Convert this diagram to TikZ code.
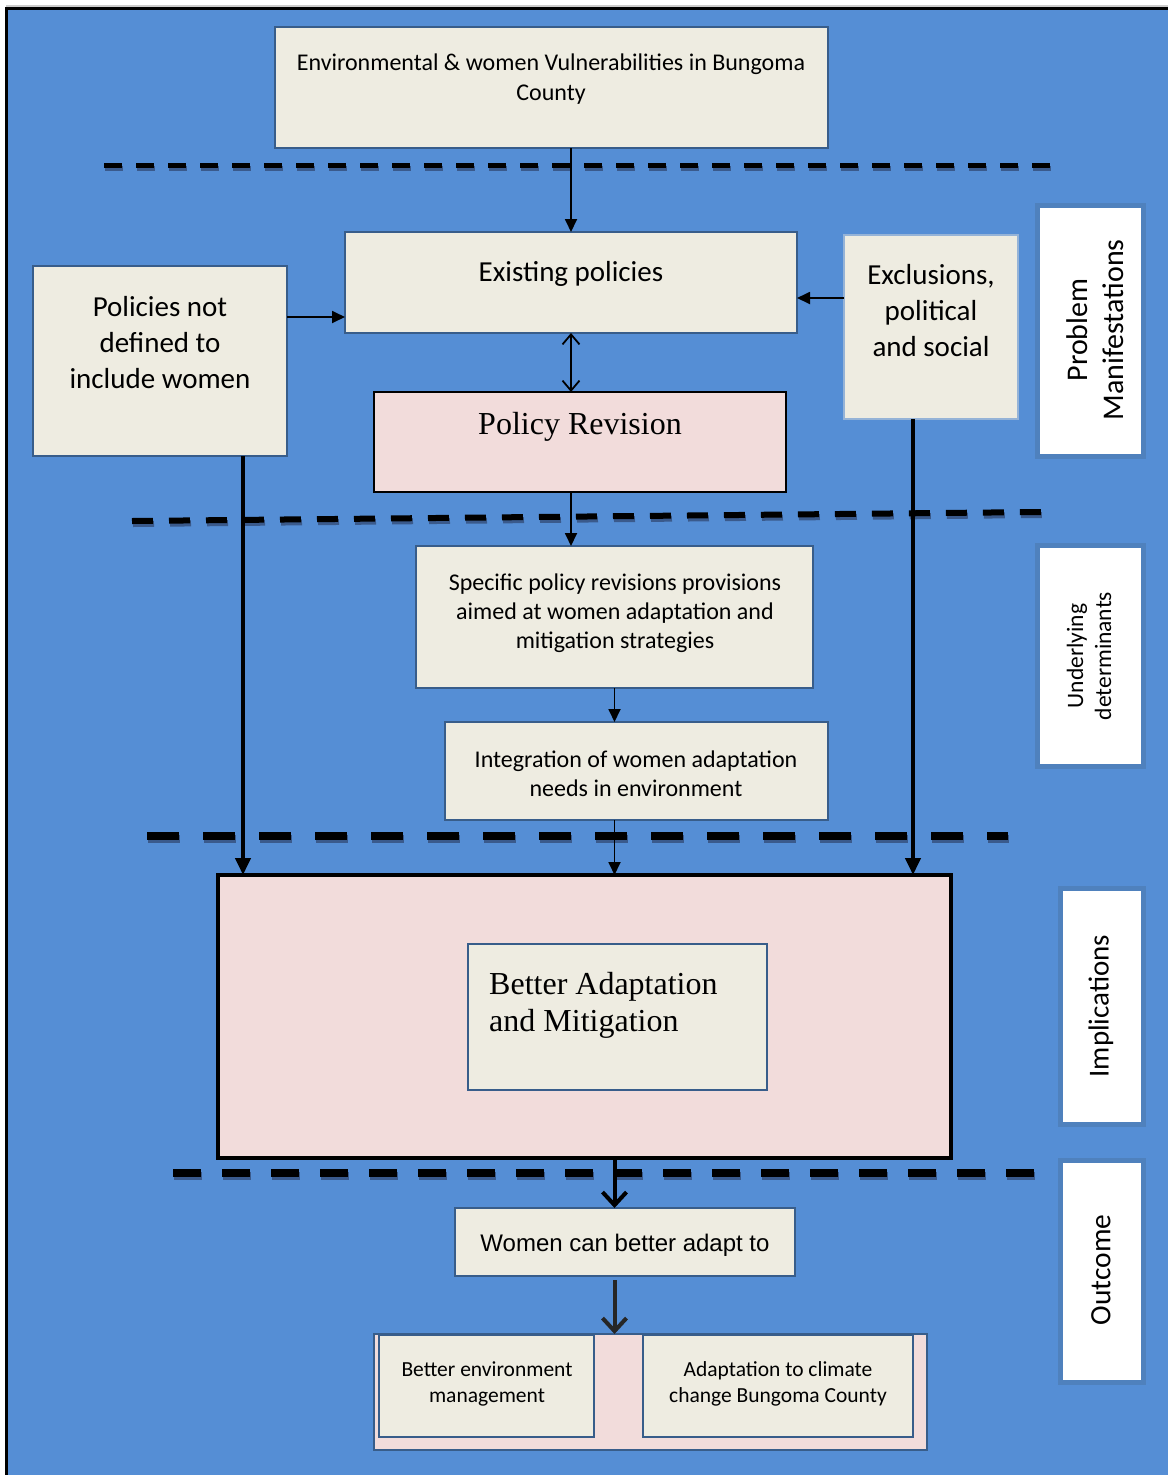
\documentclass[tikz,border=0pt]{standalone}
\usepackage{fontspec}
\usepackage{tikz}
\usepackage{xcolor}
\usetikzlibrary{arrows.meta}
\setmainfont{Carlito}
\newfontfamily\timesfont{Liberation Serif}
\newfontfamily\arialfont{Liberation Sans}

\definecolor{bgblue}{HTML}{558ED5}
\definecolor{boxfill}{HTML}{EEECE1}
\definecolor{boxline}{HTML}{385D8A}
\definecolor{pinkfill}{HTML}{F2DCDB}
\definecolor{sideline}{HTML}{4F81BD}
\definecolor{lightline}{HTML}{95B3D7}
\definecolor{dashshadow}{HTML}{3A5A8C}

\tikzset{
  box/.style={draw=boxline, fill=boxfill, line width=1.5pt, inner sep=0pt, outer sep=0pt, anchor=north west},
  sidebox/.style={draw=sideline, fill=white, line width=5pt, inner sep=0pt, outer sep=0pt, anchor=north west},
  txt/.style={inner sep=0pt, align=center},
  big/.style={font=\fontsize{29}{36}\selectfont},
  mid/.style={font=\fontsize{24}{29}\selectfont},
  small/.style={font=\fontsize{21.5}{26}\selectfont},
  arr/.style={line width=1.8pt, -{Triangle[length=13pt,width=12pt]}},
  bigarr/.style={line width=4pt, -{Triangle[length=17pt,width=15pt]}},
  vee/.style={line width=4pt, -{Straight Barb[length=13pt,width=24pt]}}
}

\begin{document}
\begin{tikzpicture}[x=1pt,y=-1pt]
    \useasboundingbox (0,0) rectangle (1168,1475);
    \fill[white] (0,0) rectangle (1168,1475);
    \fill[bgblue] (6,8) rectangle (1168,1475);
    \draw[gray!40, line width=1.5pt] (6,6) -- (1168,6);
    \draw[black, line width=3pt] (6,1475) -- (6,8) -- (1168,8);

    % Dashed separators
    \foreach \xa/\ya/\xb/\yb/\dl/\gl/\lw in {104/165/1055/165/18/14/5, 132/521/1041/512/21/16/6,
        147/836/1008/836/32/24/8, 173/1173/1036/1173/28/21/8} {
        \draw[dashshadow, line width=\lw pt, dash pattern=on \dl pt off \gl pt] (\xa+1,\ya+3) -- (\xb+1,\yb+3);
        \draw[black, line width=\lw pt, dash pattern=on \dl pt off \gl pt] (\xa,\ya) -- (\xb,\yb);
    }

    % Problem manifestations
    \node[box, minimum width=553pt, minimum height=121pt] (env) at (275,27) {};
    \node[txt, font=\fontsize{24}{30}\selectfont] (envT) at (551,79) {Environmental \& women Vulnerabilities in Bungoma\\County};

    \node[box, minimum width=452pt, minimum height=101pt] (exist) at (345,232) {};
    \node[txt, big] (existT) at (571,274) {Existing policies};

    \node[box, minimum width=254pt, minimum height=190pt] (notdef) at (33,266) {};
    \node[txt, big] (notdefT) at (160,343) {Policies not\\defined to\\include women};

    \node[box, draw=lightline, line width=2.5pt, minimum width=174pt, minimum height=184pt] (excl) at (844,235) {};
    \node[txt, big] (exclT) at (931,311) {Exclusions,\\political\\and social};

    \node[box, fill=pinkfill, draw=black, line width=2.5pt, minimum width=412pt, minimum height=100pt] (rev) at (374,392) {};
    \node[txt, font=\timesfont\fontsize{32}{36}\selectfont] (revT) at (580,427) {Policy Revision};

    % Underlying determinants
    \node[box, minimum width=397pt, minimum height=142pt] (spec) at (416,546) {};
    \node[txt, mid] (specT) at (615,613) {Specific policy revisions provisions\\aimed at women adaptation and\\mitigation strategies};

    \node[box, minimum width=383pt, minimum height=98pt] (integ) at (445,722) {};
    \node[txt, mid] (integT) at (636,774) {Integration of women adaptation\\needs in environment};

    % Implications
    \node[box, fill=pinkfill, draw=black, line width=4pt, minimum width=733pt, minimum height=283pt] (impl) at (218,875) {};
    \node[box, minimum width=299pt, minimum height=146pt] (better) at (468,944) {};
    \node[txt, align=left, anchor=west, font=\timesfont\fontsize{32}{37}\selectfont] (betterT) at (489,1005) {Better Adaptation\\and Mitigation};

    % Outcome
    \node[box, minimum width=340pt, minimum height=68pt] (women) at (455,1208) {};
    \node[txt, font=\arialfont\fontsize{24}{28}\selectfont] (womenT) at (625,1245) {Women can better adapt to};

    \node[box, fill=pinkfill, minimum width=553pt, minimum height=116pt] (outc) at (374,1334) {};
    \node[box, minimum width=215pt, minimum height=102pt] (envman) at (379,1335) {};
    \node[txt, small] (envmanT) at (487,1384) {Better environment\\management};
    \node[box, minimum width=270pt, minimum height=102pt] (climate) at (643,1335) {};
    \node[txt, small] (climateT) at (778,1384) {Adaptation to climate\\change Bungoma County};

    % Side labels
    \node[sidebox, minimum width=106pt, minimum height=251pt] (sideA) at (1037,205) {};
    \node[txt, font=\fontsize{30}{36}\selectfont, rotate=90] (sideAT) at (1095,330) {Problem\\Manifestations};
    \node[sidebox, minimum width=106pt, minimum height=221pt] (sideB) at (1037,545) {};
    \node[txt, rotate=90, font=\fontsize{23.5}{28}\selectfont] (sideBT) at (1089,656) {Underlying\\determinants};
    \node[sidebox, minimum width=83pt, minimum height=236pt] (sideC) at (1060,888) {};
    \node[txt, big, rotate=90] (sideCT) at (1101,1006) {Implications};
    \node[sidebox, minimum width=83pt, minimum height=222pt] (sideD) at (1060,1160) {};
    \node[txt, font=\fontsize{29.5}{36}\selectfont, rotate=90] (sideDT) at (1101,1270) {Outcome};

    % Arrows
    \draw[arr] (exist.north |- env.south) -- (exist.north);
    \draw[arr] ([yshift=-51pt]notdef.north east) -- ([yshift=-85pt]exist.north west);
    \draw[arr] ([yshift=-63pt]excl.north west) -- ([yshift=-66pt]exist.north east);
    \draw[line width=1.8pt, {Straight Barb[length=10pt,width=17pt]}-{Straight Barb[length=10pt,width=17pt]}]
        (exist.south) -- (exist.south |- rev.north);
    \draw[arr] (exist.south |- rev.south) -- (exist.south |- spec.north);
    \draw[arr] (spec.south) -- (spec.south |- integ.north);
    \draw[arr] (spec.south |- integ.south) -- (spec.south |- impl.north);
    \draw[bigarr] ([xshift=-44pt]notdef.south east) -- ([xshift=25pt]impl.north west);
    \draw[bigarr] ([xshift=-18pt]excl.south) -- ([xshift=-38pt]impl.north east);
    \draw[vee] (spec.south |- impl.south) -- (spec.south |- women.north);
    \draw[vee, black!85, shorten <=4pt] (spec.south |- women.south) -- (spec.south |- outc.north);
\end{tikzpicture}
\end{document}
